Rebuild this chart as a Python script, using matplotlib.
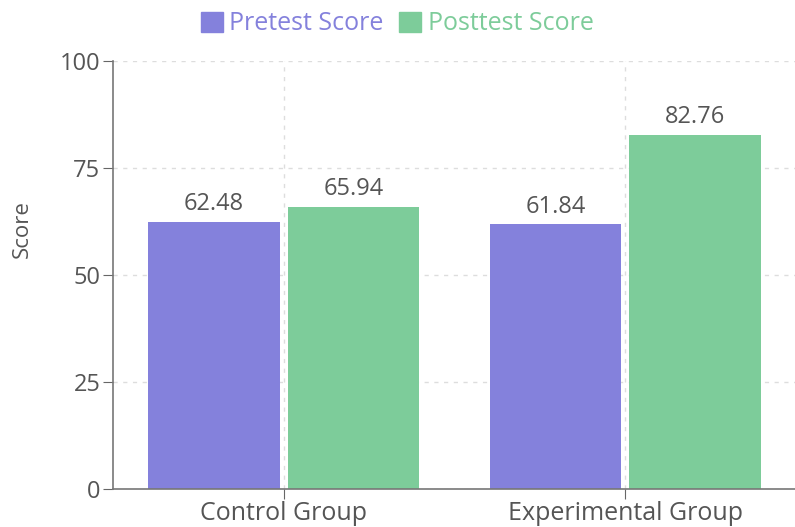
import matplotlib
matplotlib.use("Agg")
import matplotlib.pyplot as plt
import numpy as np
from matplotlib.patches import Patch

categories = ["Control Group", "Experimental Group"]
series_names = ["Pretest Score", "Posttest Score"]
pretest = [62.48, 61.84]
posttest = [65.94, 82.76]
yticks = [0, 25, 50, 75, 100]

colors = ["#8481dc", "#7dcc9a"]
text_color = "#555555"
plt.rcParams['font.family'] = ['Open Sans', 'DejaVu Sans']

fig = plt.figure(figsize=(7.95, 5.27), dpi=100)
ax = fig.add_axes([113/795, 1-489/527, (796-113)/795, (489-61)/527])

x = np.arange(len(categories))
w = 0.386
off = 0.204
for vals, o, c in [(pretest, -off, colors[0]), (posttest, off, colors[1])]:
    bars = ax.bar(x + o, vals, width=w, color=c, zorder=2)
    for b, v in zip(bars, vals):
        ax.text(b.get_x() + b.get_width()/2, v + 1.3, f"{v:.2f}", ha="center", va="bottom",
                fontsize=17, color=text_color, zorder=3)

ax.set_xlim(-0.5, 1.5)
ax.set_ylim(0, 100)
ax.set_yticks(yticks)
ax.set_xticks(x)
ax.set_xticklabels(categories)
ax.tick_params(axis="both", colors="#666666", labelcolor=text_color, length=7)
ax.tick_params(axis="y", labelsize=17, pad=2)
ax.tick_params(axis="x", labelsize=18, pad=2)
ax.grid(True, linestyle=(0, (3, 4)), color="#dddddd", linewidth=1, zorder=0)
for s in ["top", "right"]:
    ax.spines[s].set_visible(False)
for s in ["left", "bottom"]:
    ax.spines[s].set_color("#777777")
    ax.spines[s].set_linewidth(1.2)
ax.set_ylabel("Score", fontsize=16, color=text_color)
ax.yaxis.set_label_coords(-(113-33)/683, (489-229)/428)

handles = [Patch(color=colors[0]), Patch(color=colors[1])]
leg = fig.legend(handles, series_names, loc="center", bbox_to_anchor=(397/795, 1-24/527), ncol=2,
                 frameon=False, fontsize=18, handlelength=0.9, handleheight=0.9,
                 handletextpad=0.25, columnspacing=0.6)
for t, c in zip(leg.get_texts(), colors):
    t.set_color(c)

fig.savefig("out.png", dpi=100)
